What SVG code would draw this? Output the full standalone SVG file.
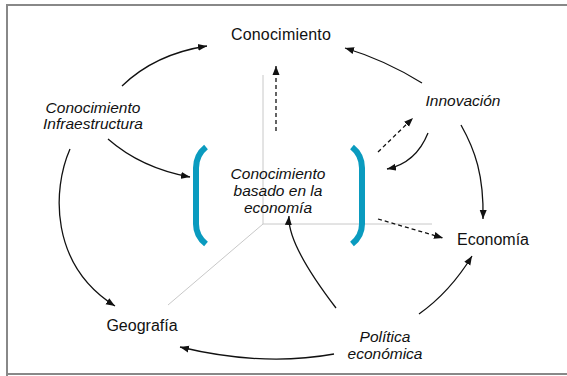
<svg xmlns="http://www.w3.org/2000/svg" width="567" height="376" viewBox="0 0 567 376">
<defs>
<marker id="ah" markerUnits="userSpaceOnUse" markerWidth="10" markerHeight="8" refX="9" refY="4" orient="auto">
<path d="M0,0.5 L9,4 L0,7.5 Z" fill="#111"/>
</marker>
<style>
.lbl{font-family:"Liberation Sans",Arial,sans-serif;fill:#111;font-size:16px;text-anchor:middle}
.it{font-style:italic;font-size:15.5px}
.ax{stroke:#c8c8c8;stroke-width:1;fill:none}
.br{stroke:#0a9bbf;stroke-width:6;fill:none;stroke-linecap:butt;stroke-linejoin:round}
.ar{stroke:#111;stroke-width:1.3;fill:none;marker-end:url(#ah)}
.da{stroke-dasharray:4,3}
</style>
</defs>
<rect x="0" y="0" width="567" height="376" fill="#fff"/>
<path d="M7,376 L7,5 L567,5 M7,374 L567,374" stroke="#888" stroke-width="2" fill="none"/>
<g id="axes">
<path class="ax" d="M263,75 L263,224 L432,224 M263,224 L168,305"/>
</g>
<g id="brackets">
<path class="br" d="M206,147 Q196,155 196,168 L196,224 Q196,236 206,244"/>
<path class="br" d="M352,147 Q362,155 362,168 L362,224 Q362,236 352,244"/>
</g>
<g id="connectors">
<path class="ar" d="M122,86 Q155,54 207,46"/>
<path class="ar" d="M422,83 Q385,60 345,48"/>
<path class="ar da" d="M276,131 L276,66"/>
<path class="ar" d="M108,139 Q141,168 190,177"/>
<path class="ar da" d="M378,152 L413,118"/>
<path class="ar" d="M428,133 Q416,163 387,169"/>
<path class="ar" d="M461,125 C475,150 484,175 483,219"/>
<path class="ar" d="M70,149 C52,190 50,265 115,306"/>
<path class="ar" d="M419,314 Q450,292 472,256"/>
<path class="ar" d="M336,308 Q287,244 289,216"/>
<path class="ar" d="M334,354 Q263,367 180,347"/>
<path class="ar da" d="M378,219 L443,238"/>
</g>
<g id="n-conocimiento"><text class="lbl" x="281" y="40" letter-spacing="0.2">Conocimiento</text></g>
<g id="n-infra"><text class="lbl it" x="93" y="113">Conocimiento</text><text class="lbl it" x="93" y="129">Infraestructura</text></g>
<g id="n-innovacion"><text class="lbl it" x="463" y="106">Innovación</text></g>
<g id="n-central"><text class="lbl it" x="278" y="179">Conocimiento</text><text class="lbl it" x="278" y="196">basado en la</text><text class="lbl it" x="278" y="213">economía</text></g>
<g id="n-economia"><text class="lbl" x="493" y="245">Economía</text></g>
<g id="n-geografia"><text class="lbl" x="142" y="331">Geografía</text></g>
<g id="n-politica"><text class="lbl it" x="385" y="342">Política</text><text class="lbl it" x="385" y="359">económica</text></g>
</svg>
